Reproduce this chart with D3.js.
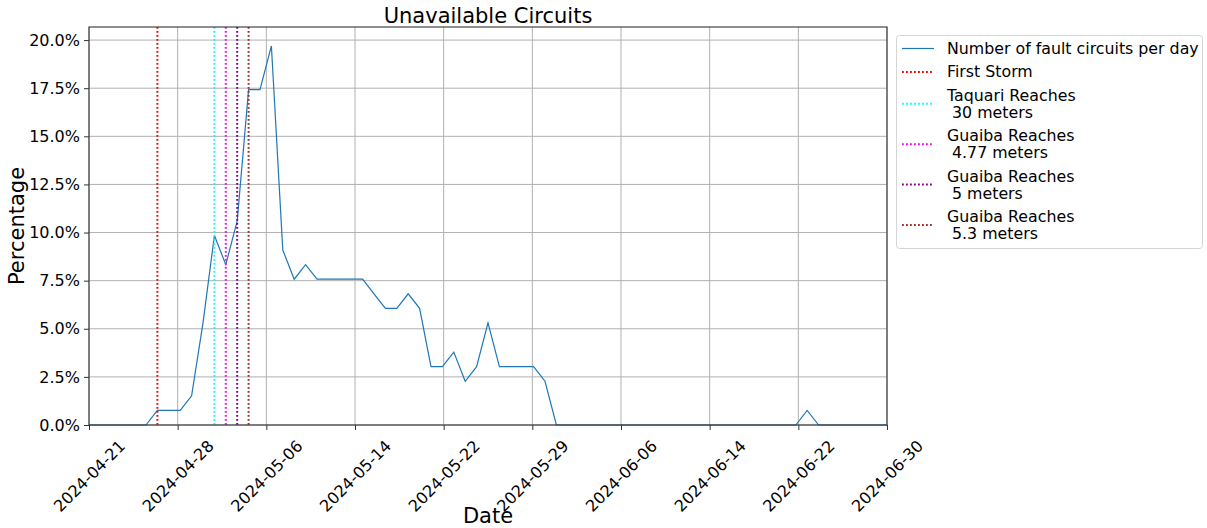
<!DOCTYPE html>
<html>
<head>
<meta charset="utf-8">
<script src="https://cdn.jsdelivr.net/npm/d3@7"></script>
<style>
  body { margin: 0; background: white; }
  text { font-family: "DejaVu Sans", sans-serif; fill: black; }
</style>
</head>
<body>
<div id="chart_container"></div>
<script>
// daily share of circuits in fault, 2024-04-21 .. 2024-06-30 (percent)
var startDate = "2024-04-21";
var endDate = "2024-06-30";
var faultPct = [
  0, 0, 0, 0, 0, 0, 0.758, 0.758, 0.758, 1.515,
  5.303, 9.848, 8.333, 10.606, 17.424, 17.424, 19.697, 9.091, 7.576, 8.333,
  7.576, 7.576, 7.576, 7.576, 7.576, 6.818, 6.061, 6.061, 6.818, 6.061,
  3.030, 3.030, 3.788, 2.273, 3.030, 5.303, 3.030, 3.030, 3.030, 3.030,
  2.273, 0, 0, 0, 0, 0, 0, 0, 0, 0,
  0, 0, 0, 0, 0, 0, 0, 0, 0, 0,
  0, 0, 0, 0.758, 0, 0, 0, 0, 0, 0,
  0
];

var eventDates = ["2024-04-27", "2024-05-02", "2024-05-03", "2024-05-04", "2024-05-05"];
var eventLabels = ["First Storm", "Taquari Reaches\n 30 meters", "Guaiba Reaches\n 4.77 meters",
                   "Guaiba Reaches\n 5 meters", "Guaiba Reaches\n 5.3 meters"];
var eventColors = ["red", "cyan", "magenta", "purple", "brown"];

var seriesLabel = "Number of fault circuits per day";
var yTicks = [0, 2.5, 5, 7.5, 10, 12.5, 15, 17.5, 20];
var xTickLabels = ["2024-04-21", "2024-04-28", "2024-05-06", "2024-05-14", "2024-05-22",
                   "2024-05-29", "2024-06-06", "2024-06-14", "2024-06-22", "2024-06-30"];


var parseDay = d3.utcParse("%Y-%m-%d");
var t0 = parseDay(startDate);
var t1 = parseDay(endDate);
var days = d3.utcDay.range(t0, d3.utcDay.offset(t1, 1));
var data = days.map(function (d, i) { return { date: d, value: faultPct[i] }; });

var width = 1207, height = 528;
var plotLeft = 89, plotRight = 887, plotTop = 27, plotBottom = 425;

var svg = d3.select("#chart_container").append("svg")
  .attr("width", width)
  .attr("height", height);

var x = d3.scaleUtc().domain([t0, t1]).range([plotLeft, plotRight]);
var y = d3.scaleLinear().domain([0, 20.68]).range([plotBottom, plotTop]);

// ticks are evenly spaced over the range, not on whole days
var xTickVals = d3.range(xTickLabels.length).map(function (i) {
  return new Date(+t0 + i * (t1 - t0) / (xTickLabels.length - 1));
});

// grid
var grid = svg.append("g").attr("class", "grid");
grid.selectAll("line.gx")
  .data(xTickVals)
  .enter().append("line")
    .attr("x1", function (d) { return x(d); })
    .attr("x2", function (d) { return x(d); })
    .attr("y1", plotTop).attr("y2", plotBottom)
    .attr("stroke", "#b0b0b0").attr("stroke-width", 1);
grid.selectAll("line.gy")
  .data(yTicks)
  .enter().append("line")
    .attr("x1", plotLeft).attr("x2", plotRight)
    .attr("y1", function (d) { return y(d); })
    .attr("y2", function (d) { return y(d); })
    .attr("stroke", "#b0b0b0").attr("stroke-width", 1);

// data line
var line = d3.line()
  .x(function (d) { return x(d.date); })
  .y(function (d) { return y(d.value); });
svg.append("path")
  .datum(data)
  .attr("d", line)
  .attr("fill", "none")
  .attr("stroke", "#1f77b4")
  .attr("stroke-width", 1.2);

// event markers
svg.selectAll("line.event")
  .data(eventDates)
  .enter().append("line")
    .attr("class", "event")
    .attr("x1", function (d) { return x(parseDay(d)); })
    .attr("x2", function (d) { return x(parseDay(d)); })
    .attr("y1", plotTop).attr("y2", plotBottom)
    .attr("stroke", function (d, i) { return eventColors[i]; })
    .attr("stroke-width", 2)
    .attr("stroke-dasharray", "1.8,2.2");

// frame
svg.append("rect")
  .attr("x", plotLeft).attr("y", plotTop)
  .attr("width", plotRight - plotLeft).attr("height", plotBottom - plotTop)
  .attr("fill", "none").attr("stroke", "#333").attr("stroke-width", 1.1);

// y axis
var yAxis = svg.append("g")
  .attr("transform", "translate(" + plotLeft + ",0)")
  .call(d3.axisLeft(y).tickValues(yTicks).tickSize(5).tickPadding(4)
    .tickFormat(function (d) { return d3.format(".1f")(d) + "%"; }));
yAxis.select(".domain").remove();
yAxis.selectAll("text").style("font-size", "16px").attr("fill", "black");
yAxis.selectAll("line").attr("stroke", "#333");

// x axis
var xAxis = svg.append("g")
  .attr("transform", "translate(0," + plotBottom + ")")
  .call(d3.axisBottom(x).tickValues(xTickVals).tickSize(5)
    .tickFormat(function (d, i) { return xTickLabels[i]; }));
xAxis.select(".domain").remove();
xAxis.selectAll("line").attr("stroke", "#333");
xAxis.selectAll("text")
  .style("font-size", "16px")
  .attr("fill", "black")
  .attr("text-anchor", "middle")
  .attr("dominant-baseline", "central")
  .attr("y", 0).attr("dy", null)
  .attr("transform", "translate(0,51) rotate(-45)");

// titles
svg.append("text")
  .attr("x", (plotLeft + plotRight) / 2).attr("y", 23)
  .attr("text-anchor", "middle")
  .style("font-size", "21px")
  .text("Unavailable Circuits");
svg.append("text")
  .attr("x", (plotLeft + plotRight) / 2).attr("y", 523)
  .attr("text-anchor", "middle")
  .style("font-size", "21px")
  .text("Date");
svg.append("text")
  .attr("transform", "translate(24," + ((plotTop + plotBottom) / 2) + ") rotate(-90)")
  .attr("text-anchor", "middle")
  .style("font-size", "21px")
  .text("Percentage");

// legend
var legendItems = [{ label: seriesLabel, color: "#1f77b4", dash: null, sw: 1.2 }]
  .concat(eventLabels.map(function (l, i) {
    return { label: l, color: eventColors[i], dash: "1.8,2.2", sw: 2 };
  }));

var legend = svg.append("g");
legend.append("rect")
  .attr("x", 896.5).attr("y", 35.5)
  .attr("width", 306).attr("height", 213)
  .attr("rx", 3)
  .attr("fill", "white").attr("fill-opacity", 0.8)
  .attr("stroke", "#d5d5d5");

var cursor = 54;
legendItems.forEach(function (item) {
  var lines = item.label.split("\n");
  var sy = cursor - 5.5 + (lines.length - 1) * 17 / 2;
  legend.append("line")
    .attr("x1", 902).attr("x2", 934)
    .attr("y1", sy).attr("y2", sy)
    .attr("stroke", item.color)
    .attr("stroke-width", item.sw)
    .attr("stroke-dasharray", item.dash);
  lines.forEach(function (l, j) {
    legend.append("text")
      .attr("x", 947).attr("y", cursor + j * 17)
      .style("font-size", "15.8px")
      .style("white-space", "pre")
      .text(l);
  });
  cursor += (lines.length - 1) * 17 + 23.4;
});
</script>
</body>
</html>
